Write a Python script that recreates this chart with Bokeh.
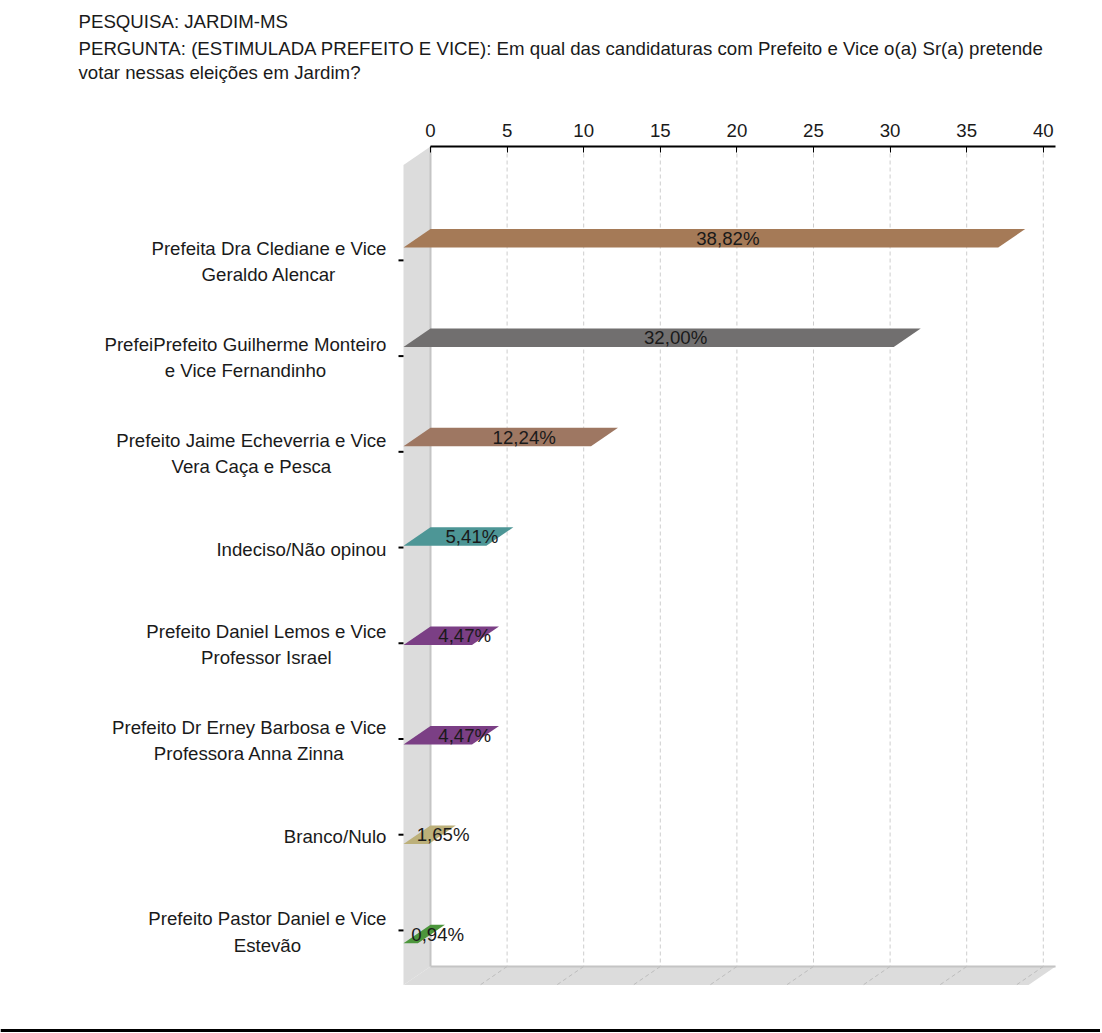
from bokeh.plotting import figure
from bokeh.models import Range1d, LinearAxis, FixedTicker, Title
from bokeh.core.properties import value
from bokeh.embed import file_html
from bokeh.resources import INLINE

# ---------------- data ----------------
title_lines = [
    "PESQUISA: JARDIM-MS",
    "PERGUNTA: (ESTIMULADA PREFEITO E VICE): Em qual das candidaturas com Prefeito e Vice o(a) Sr(a) pretende",
    "votar nessas eleições em Jardim?",
]
categories = [
    "Prefeita Dra Clediane e Vice\nGeraldo Alencar",
    "PrefeiPrefeito Guilherme Monteiro\ne Vice Fernandinho",
    "Prefeito Jaime Echeverria e Vice\nVera Caça e Pesca",
    "Indeciso/Não opinou",
    "Prefeito Daniel Lemos e Vice\nProfessor Israel",
    "Prefeito Dr Erney Barbosa e Vice\nProfessora Anna Zinna",
    "Branco/Nulo",
    "Prefeito Pastor Daniel e Vice\nEstevão",
]
values = [38.82, 32.00, 12.24, 5.41, 4.47, 4.47, 1.65, 0.94]
value_labels = ["38,82%", "32,00%", "12,24%", "5,41%", "4,47%", "4,47%", "1,65%", "0,94%"]
bar_colors = ["#A57A57", "#716F6F", "#9E7762", "#4D9696", "#7B3F85", "#7B3F85", "#BCB07A", "#4C963C"]
x_ticks = [0, 5, 10, 15, 20, 25, 30, 35, 40]
axis_end = 40.8

# ---------------- layout (pixels) ----------------
W, H = 1100, 1032
PAGE = 0
FRAME_TOP = 146          # page y of the top axis line
X0_PX, PXU = 430, 15.32  # page x of value 0, pixels per percent
Y0_PX, PYU = 247, 99.4   # page y of first bar's front edge, pixels per category
FRONT_SCALE = 0.963      # perspective: front category axis is slightly compressed
DEPTH_X, DEPTH_Y = 27, 18.5
FLOOR_TOP = 966
FONT = "Liberation Sans"
FS = "14pt"
TXT = "#1A1A1A"


def px2x(px):
    return (px - X0_PX) / PXU


def py2y(py):
    return (py - Y0_PX) / PYU


dx = DEPTH_X / PXU
dy = DEPTH_Y / PYU
y_top = py2y(FRAME_TOP)
y_floor = py2y(FLOOR_TOP)

p = figure(
    width=W, height=H, title=None,
    x_range=Range1d(px2x(PAGE), px2x(PAGE + W)),
    y_range=Range1d(py2y(PAGE + H), y_top),
    x_axis_location=None, y_axis_location=None,
    toolbar_location=None, output_backend="svg",
    min_border_left=0, min_border_right=0, min_border_bottom=0,
    min_border_top=FRAME_TOP - PAGE,
)
p.grid.visible = False
p.outline_line_color = None
p.background_fill_color = "white"
p.border_fill_color = "white"

# back-left wall and floor
p.patch([0, 0, -dx, -dx], [y_top, y_floor, y_floor + dy, y_top + dy],
        fill_color="#DCDCDC", line_color=None)
p.segment(x0=[0], y0=[y_top], x1=[0], y1=[y_floor], line_color="#C4C4C4", line_width=2)
p.patch([0, axis_end, axis_end - dx, -dx], [y_floor, y_floor, y_floor + dy, y_floor + dy],
        fill_color="#DCDCDC", line_color=None)
p.segment(x0=[0], y0=[y_floor], x1=[axis_end], y1=[y_floor], line_color="#C4C4C4", line_width=2)

# gridlines (back wall + floor)
gx = x_ticks[1:]
p.segment(x0=gx, y0=[y_top] * len(gx), x1=gx, y1=[y_floor] * len(gx),
          line_color="#CDCDCD", line_width=1, line_dash="4 3")
p.segment(x0=gx, y0=[y_floor] * len(gx), x1=[g - dx for g in gx], y1=[y_floor + dy] * len(gx),
          line_color="#BDBDBD", line_width=1, line_dash="4 3")

# bars (flat 3D faces)
n = len(categories)
idx = list(range(n))
xs = [[-dx, v - dx, v, 0] for v in values]
ys = [[i, i, i - dy, i - dy] for i in idx]
p.patches(xs=xs, ys=ys, fill_color=bar_colors, line_color=None)

# value labels
p.text(x=[v / 2 for v in values], y=[i - dy / 2 for i in idx], text=value_labels,
       text_align="center", text_baseline="middle", text_font=value(FONT),
       text_font_size=FS, text_color=TXT)

# category ticks and labels on the (perspective-compressed) front axis
mid = (n - 1) / 2
front = [mid + (i - mid) * FRONT_SCALE for i in idx]
tick_len = 5 / PXU
p.segment(x0=[-dx - tick_len] * n, y0=front, x1=[-dx] * n, y1=front,
          line_color="black", line_width=2)
p.text(x=[px2x(386)] * n, y=[f + 0.015 for f in front], text=categories,
       text_align="center", text_baseline="middle", anchor="center_right",
       text_font=value(FONT), text_font_size=FS, text_color=TXT,
       text_line_height=1.25)

# top axis
ax = LinearAxis(ticker=FixedTicker(ticks=x_ticks), bounds=(0, axis_end))
ax.axis_line_color = "black"
ax.axis_line_width = 2
ax.major_tick_in = 6
ax.major_tick_out = 0
ax.major_tick_line_color = "black"
ax.minor_tick_line_color = None
ax.major_label_standoff = 10
ax.major_label_text_font = FONT
ax.major_label_text_font_size = FS
ax.major_label_text_color = TXT
p.add_layout(ax, "above")

# spacer between axis and title block
p.add_layout(Title(text=" ", text_font_size="2px", standoff=33), "above")

# title lines (innermost first)
for line, so in zip(reversed(title_lines), [1, 1, 7]):
    p.add_layout(Title(text=line, align="left", offset=78, standoff=so,
                       text_font=FONT, text_font_size=FS, text_font_style="normal",
                       text_color=TXT), "above")

# bottom rule
p.segment(x0=[px2x(PAGE)], y0=[py2y(1030)], x1=[px2x(PAGE + W)], y1=[py2y(1030)],
          line_color="black", line_width=3)

open("out.html", "w").write(file_html(p, INLINE))
